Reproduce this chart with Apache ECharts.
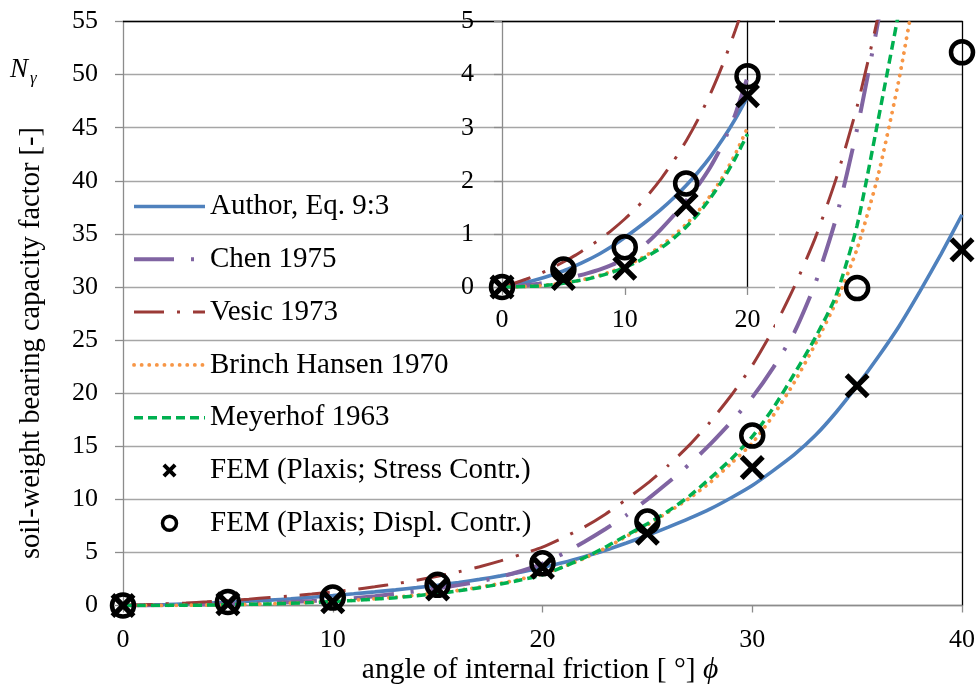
<!DOCTYPE html>
<html>
<head>
<meta charset="utf-8">
<title>N gamma vs friction angle</title>
<script src="https://cdn.jsdelivr.net/npm/echarts@6/dist/echarts.min.js"></script>
<style>
  html, body { margin: 0; padding: 0; background: #fff; }
  #main { width: 979px; height: 688px; }
</style>
</head>
<body>
<div id="main"></div>
<script>
// friction angle (deg), one value per degree
var phi = [0,1,2,3,4,5,6,7,8,9,10,11,12,13,14,15,16,17,18,19,20,
           21,22,23,24,25,26,27,28,29,30,31,32,33,34,35,36,37,38,39,40];

// curves (index = phi)
var author = [0,0.04,0.09,0.15,0.22,0.3,0.4,0.51,0.63,0.77,0.93,1.1,1.28,1.47,1.68,1.91,2.17,2.46,2.79,3.16,3.58,
              4.05,4.6,5.2,5.88,6.6,7.38,8.2,9.1,10.15,11.3,12.7,14.2,16.0,18.2,20.7,23.4,26.3,29.6,33.1,36.8];
var chen = [0,0.01,0.03,0.06,0.1,0.15,0.2,0.26,0.33,0.42,0.53,0.68,0.87,1.1,1.35,1.62,1.92,2.27,2.7,3.25,3.95,
            4.9,6.0,7.2,8.5,10.0,11.6,13.3,15.2,17.3,19.6,22.4,25.7,30.3,36.5,44.9,55.0,67.0];
var vesic = [0,0.07,0.15,0.24,0.35,0.47,0.6,0.75,0.9,1.08,1.28,1.5,1.76,2.05,2.38,2.75,3.17,3.65,4.2,4.83,5.5,
             6.4,7.4,8.6,10.0,11.5,13.2,15.1,17.3,19.8,22.6,26.0,30.0,34.6,40.2,47.0,55.5,66.0];
var hansen = [0,0.002,0.01,0.024,0.045,0.075,0.11,0.16,0.22,0.3,0.39,0.5,0.63,0.78,0.97,1.18,1.43,1.73,2.08,2.5,3.0,
              3.65,4.45,5.4,6.5,7.6,8.8,10.1,11.6,13.4,15.3,17.9,21.0,24.6,28.6,33.6,40.5,49.6,60.6];
var meyerhof = [0,0.002,0.01,0.02,0.04,0.07,0.11,0.15,0.21,0.28,0.37,0.47,0.6,0.74,0.92,1.13,1.38,1.68,2.02,2.42,2.88,
                3.65,4.5,5.5,6.6,7.7,8.9,10.3,12.0,13.8,15.9,18.6,21.8,25.2,29.2,35.8,45.7,56.0];

// FEM results
var femPhi = [0,5,10,15,20,25,30,35,40];
var femStress = [0,0.16,0.35,1.55,3.6,6.8,13.0,20.7,33.5];
var femDispl = [0,0.33,0.75,1.95,3.97,7.9,16.0,29.9,52.1];

// axis ranges [min, max, interval]
var xMain = [0, 40, 10], yMain = [0, 55, 5];
var xInset = [0, 20, 10], yInset = [0, 5, 1];

var seriesNames = ['Author, Eq. 9:3', 'Chen 1975', 'Vesic 1973', 'Brinch Hansen 1970', 'Meyerhof 1963',
                   'FEM (Plaxis; Stress Contr.)', 'FEM (Plaxis; Displ. Contr.)'];

var FONT = 'Liberation Serif';
var xPath = 'path://M1.5,0L5,3.5L8.5,0L10,1.5L6.5,5L10,8.5L8.5,10L5,6.5L1.5,10L0,8.5L3.5,5L0,1.5Z';
var xPathBold = 'path://M2,0L5,3L8,0L10,2L7,5L10,8L8,10L5,7L2,10L0,8L3,5L0,2Z';

function pairs(xs, ys, xmax) {
    var out = [];
    for (var i = 0; i < ys.length; i++) {
        if (xs[i] <= xmax) out.push([xs[i], ys[i]]);
    }
    return out;
}

var lineStyles = [
    {color: '#4F81BD', width: 3.6, type: 'solid'},
    {color: '#8064A2', width: 4, type: [40, 17, 3, 17]},
    {color: '#9B3A37', width: 3, type: [30, 13, 3, 13]},
    {color: '#F79646', width: 3.8, type: [0.1, 7.5], cap: 'round'},
    {color: '#00B050', width: 3.5, type: [9, 5]}
];
var curves = [author, chen, vesic, hansen, meyerhof];

var mainLeft = 123, mainTop = 21.5, mainW = 839, mainH = 584;
var insetLeft = 502, insetW = 245.5, insetH = mainH * 25 / 55;

var series = [];
[0, 1].forEach(function (g) {
    var xmax = g === 0 ? xMain[1] : xInset[1];
    curves.forEach(function (c, k) {
        series.push({
            name: seriesNames[k], type: 'line', xAxisIndex: g, yAxisIndex: g,
            data: pairs(phi, c, xmax), symbol: 'none', smooth: 0.2,
            lineStyle: lineStyles[k], itemStyle: {color: lineStyles[k].color, opacity: 0},
            clip: true, z: 2 + k * 0.1
        });
    });
    series.push({
        name: seriesNames[5], type: 'scatter', xAxisIndex: g, yAxisIndex: g,
        data: pairs(femPhi, femStress, xmax), symbol: xPath, symbolSize: 25,
        itemStyle: {color: '#000', opacity: 1}, z: 5
    });
    series.push({
        name: seriesNames[6], type: 'scatter', xAxisIndex: g, yAxisIndex: g,
        data: pairs(femPhi, femDispl, xmax), symbol: 'circle', symbolSize: 22,
        itemStyle: {color: 'rgba(0,0,0,0)', borderColor: '#000', borderWidth: 4.5, opacity: 1}, z: 5
    });
});

var gray = '#8c8c8c';
var labelStyle = {fontFamily: FONT, fontSize: 26, color: '#000'};

var legendData = [0, 1, 2, 3, 4].map(function (k) {
    return {name: seriesNames[k], itemStyle: {opacity: 0}, lineStyle: {width: lineStyles[k].width}};
});
legendData.push({name: seriesNames[5], icon: xPathBold, itemStyle: {color: '#000', opacity: 1}});
legendData.push({name: seriesNames[6], icon: 'circle',
                 itemStyle: {color: 'rgba(0,0,0,0)', borderColor: '#000', borderWidth: 3.5, opacity: 1}});

var option = {
    animation: false,
    backgroundColor: '#fff',
    grid: [
        {left: mainLeft, top: mainTop, width: mainW, height: mainH},
        {left: insetLeft, top: mainTop, width: insetW, height: insetH}
    ],
    xAxis: [
        {type: 'value', gridIndex: 0, min: xMain[0], max: xMain[1], interval: xMain[2],
         axisLine: {show: true, onZero: false, lineStyle: {color: gray, width: 1.3}},
         axisTick: {show: true, length: 7, lineStyle: {color: gray, width: 1.3}},
         axisLabel: Object.assign({margin: 22}, labelStyle),
         splitLine: {show: false}},
        {type: 'value', gridIndex: 1, min: xInset[0], max: xInset[1], interval: xInset[2],
         axisLine: {show: true, onZero: false, lineStyle: {color: gray, width: 1.3}},
         axisTick: {show: true, length: 8, lineStyle: {color: gray, width: 1.3}},
         axisLabel: Object.assign({margin: 20}, labelStyle),
         splitLine: {show: false}},
        {type: 'value', gridIndex: 0, position: 'top', min: 0, max: 1,
         axisLine: {show: true, onZero: false, lineStyle: {color: '#000', width: 1.3}},
         axisTick: {show: false}, axisLabel: {show: false}, splitLine: {show: false}}
    ],
    yAxis: [
        {type: 'value', gridIndex: 0, min: yMain[0], max: yMain[1], interval: yMain[2],
         axisLine: {show: true, onZero: false, lineStyle: {color: gray, width: 1.3}},
         axisTick: {show: true, length: 8, lineStyle: {color: gray, width: 1.3}},
         axisLabel: Object.assign({margin: 25}, labelStyle),
         splitLine: {show: true, lineStyle: {color: '#a6a6a6', width: 1.3}}},
        {type: 'value', gridIndex: 1, min: yInset[0], max: yInset[1], interval: yInset[2],
         axisLine: {show: true, onZero: false, lineStyle: {color: gray, width: 1.3}},
         axisTick: {show: true, length: 8, lineStyle: {color: gray, width: 1.3}},
         axisLabel: Object.assign({margin: 28}, labelStyle),
         splitLine: {show: false}},
        {type: 'value', gridIndex: 0, position: 'right', min: 0, max: 1,
         axisLine: {show: true, onZero: false, lineStyle: {color: '#000', width: 1.3}},
         axisTick: {show: false}, axisLabel: {show: false}, splitLine: {show: false}},
        {type: 'value', gridIndex: 1, position: 'right', min: 0, max: 1,
         axisLine: {show: true, onZero: false, lineStyle: {color: '#000', width: 1.3}},
         axisTick: {show: false}, axisLabel: {show: false}, splitLine: {show: false}}
    ],
    legend: {
        orient: 'vertical', left: 132, top: 192, padding: 0,
        itemWidth: 71, itemHeight: 14, itemGap: 23.8,
        selectedMode: false,
        textStyle: {fontFamily: FONT, fontSize: 29, color: '#000'},
        data: legendData
    },
    graphic: [
        {type: 'text', x: 10, y: 56,
         style: {text: 'N', fontFamily: FONT, fontStyle: 'italic', fontSize: 27, fill: '#000'}},
        {type: 'text', x: 30, y: 70,
         style: {text: 'γ', fontFamily: FONT, fontStyle: 'italic', fontSize: 17, fill: '#000'}},
        {type: 'text', x: 32, y: 343, rotation: Math.PI / 2,
         style: {text: 'soil-weight bearing capacity factor [-]', fontFamily: FONT, fontSize: 28.5, fill: '#000',
                 align: 'center', verticalAlign: 'middle'}},
        {type: 'text', x: 540, y: 670,
         style: {text: '{a|angle of internal friction [ °] }{b|ϕ}',
                 align: 'center', verticalAlign: 'middle', fill: '#000',
                 rich: {a: {fontFamily: FONT, fontSize: 29.5, color: '#000'},
                        b: {fontFamily: FONT, fontSize: 29.5, fontStyle: 'italic', color: '#000'}}}},
        // white gap where the inset frame cuts the main chart's grid lines
        {type: 'rect', z: 100, shape: {x: 775, y: 14, width: 4, height: 318},
         style: {fill: '#fff'}}
    ],
    series: series
};

var chart = echarts.init(document.getElementById('main'));
chart.setOption(option);
</script>
</body>
</html>
